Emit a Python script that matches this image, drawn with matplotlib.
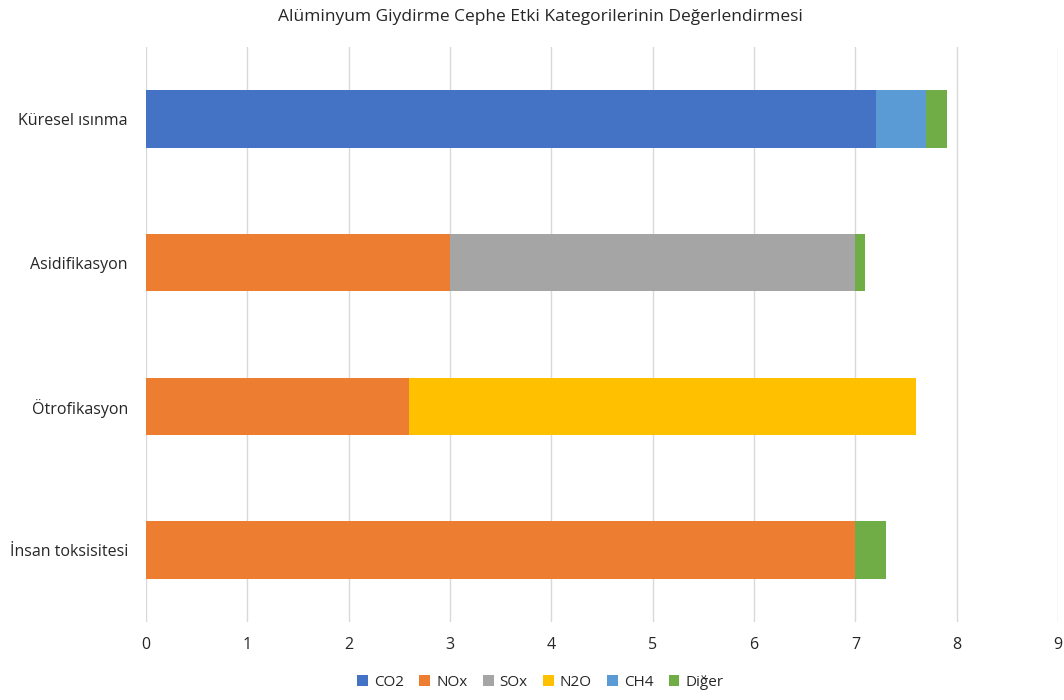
import numpy as np
import matplotlib.pyplot as plt

plt.rcParams['font.family'] = ['Open Sans', 'DejaVu Sans']

# ----------------------------
# Data
# ----------------------------
categories = ["Küresel ısınma", "Asidifikasyon", "Ötrofikasyon", "İnsan toksisitesi"]
series_names = ["CO2", "NOx", "SOx", "N2O", "CH4", "Diğer"]
co2 = [7.2, 0, 0, 0]
nox = [0, 3.0, 2.6, 7.0]
sox = [0, 4.0, 0, 0]
n2o = [0, 0, 5.0, 0]
ch4 = [0.5, 0, 0, 0]
diger = [0.2, 0.1, 0, 0.3]
colors = ["#4472C4", "#ED7D31", "#A5A5A5", "#FFC000", "#5B9BD5", "#70AD47"]

values = [co2, nox, sox, n2o, ch4, diger]

# ----------------------------
# Plot
# ----------------------------
fig = plt.figure(figsize=(10.64, 7), dpi=100)
ax = fig.add_axes([0.1372, 0.1114, 0.8572, 0.8215])

y = np.arange(len(categories))
left = np.zeros(len(categories))
for name, vals, col in zip(series_names, values, colors):
    ax.barh(y, vals, left=left, height=0.4, color=col, label=name, zorder=3)
    left += np.array(vals)

ax.set_ylim(len(categories) - 0.5, -0.5)
ax.set_xlim(0, 9)
ax.set_xticks(range(10))
ax.set_yticks(y)
ax.set_yticklabels(categories)
ax.tick_params(length=0, labelsize=11.5, colors="#262626")
ax.tick_params(axis="x", pad=11)
ax.tick_params(axis="y", pad=13)
ax.grid(axis="x", color="#D9D9D9", linewidth=1, zorder=0)
for s in ax.spines.values():
    s.set_visible(False)

fig.suptitle("Alüminyum Giydirme Cephe Etki Kategorilerinin Değerlendirmesi",
             y=0.987, x=0.508, fontsize=12.5, color="#262626")

fig.legend(loc="lower center", bbox_to_anchor=(0.508, -0.005), ncol=6,
           frameon=False, fontsize=11, handlelength=0.7, handleheight=0.7,
           columnspacing=1.0, handletextpad=0.4, labelcolor="#262626")

plt.savefig("out.png", dpi=100)
plt.close()
